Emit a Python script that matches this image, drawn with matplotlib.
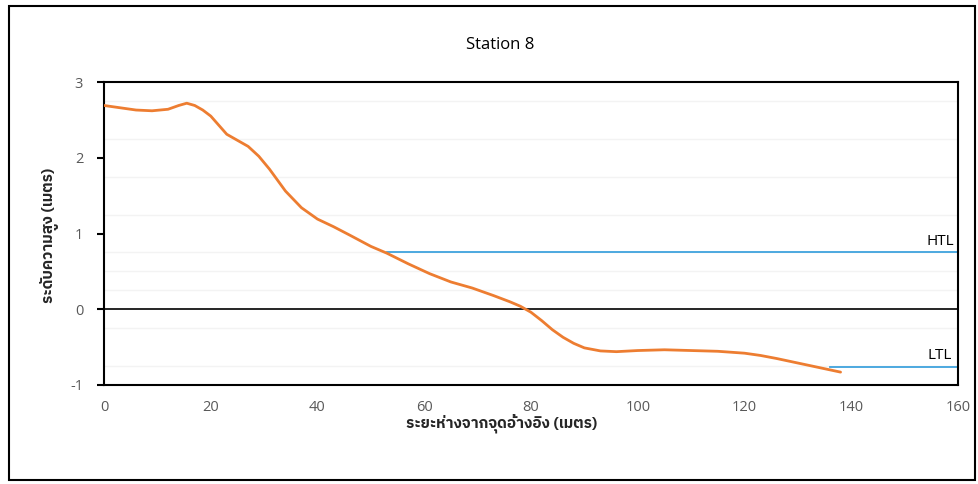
import matplotlib
matplotlib.use("Agg")
import matplotlib.pyplot as plt
from matplotlib import font_manager
from matplotlib.patches import Rectangle

# ---- data ----
distance = [0, 3, 6, 9, 12, 14, 15.5, 17, 18.5, 20, 21.5, 23, 25, 27, 29, 31, 34,
            37, 40, 43, 46, 50, 53, 57, 61, 65, 69, 73, 76, 78, 80, 82, 84, 86,
            88, 90, 93, 96, 100, 105, 110, 115, 120, 123, 126, 130, 134, 138]
elevation = [2.69, 2.66, 2.63, 2.62, 2.64, 2.69, 2.72, 2.69, 2.63, 2.55, 2.43,
             2.31, 2.23, 2.15, 2.02, 1.85, 1.56, 1.34, 1.19, 1.09, 0.98, 0.83,
             0.74, 0.6, 0.47, 0.36, 0.28, 0.18, 0.1, 0.04, -0.04, -0.15, -0.27,
             -0.37, -0.45, -0.51, -0.55, -0.56, -0.545, -0.535, -0.545, -0.555,
             -0.58, -0.61, -0.65, -0.71, -0.77, -0.83]
htl_x = [53, 160]
htl_y = [0.75, 0.75]
ltl_x = [136, 160]
ltl_y = [-0.76, -0.76]
x_ticks = [0, 20, 40, 60, 80, 100, 120, 140, 160]
y_ticks = [-1, 0, 1, 2, 3]
title = "Station 8"
xlabel = "ระยะห่างจากจุดอ้างอิง (เมตร)"
ylabel = "ระดับความสูง (เมตร)"

# ---- find a Thai-capable font (prefer proportional sans) ----
thai_font = None
try:
    from fontTools.ttLib import TTFont
    cands = []
    for f in font_manager.findSystemFonts():
        try:
            tt = TTFont(f, fontNumber=0, lazy=True)
            cmap = tt.getBestCmap()
            if cmap and 0x0E23 in cmap and 0x0E2A in cmap and 0x0E35 in cmap:
                name = font_manager.FontProperties(fname=f).get_name()
                score = 0
                low = (name + " " + f).lower()
                if "mono" in low:
                    score += 10
                if "serif" in low and "sans" not in low:
                    score += 5
                if "bold" in low or "oblique" in low or "italic" in low:
                    score += 2
                if "sans" in low:
                    score -= 1
                cands.append((score, name))
        except Exception:
            continue
    if cands:
        cands.sort()
        thai_font = cands[0][1]
except Exception:
    pass
thai_fams = ([thai_font] if thai_font else []) + ["DejaVu Sans"]
latin_fams = ["Open Sans", "DejaVu Sans"]
plt.rcParams['font.family'] = latin_fams
plt.rcParams['axes.unicode_minus'] = False

W, H = 979, 484
fig = plt.figure(figsize=(W / 100, H / 100), dpi=100)
fig.patch.set_facecolor("white")
fig.add_artist(Rectangle((9 / W, 1 - 480 / H), (975 - 9) / W, (480 - 6) / H,
                         transform=fig.transFigure, fill=False,
                         edgecolor="black", linewidth=1.5))

ax = fig.add_axes([104 / W, 1 - 385 / H, (958 - 104) / W, (385 - 82) / H])
ax.set_xlim(0, 160)
ax.set_ylim(-1, 3)

# faint minor grid
for v in [2.75, 2.25, 1.75, 1.25, 0.75, 0.5, 0.25, -0.25, -0.75]:
    ax.axhline(v, color="#f3f3f3", linewidth=1, zorder=0)

ax.axhline(0, color="black", linewidth=1.2, zorder=1)
ax.plot(htl_x, htl_y, color="#3FA3DD", linewidth=1.3, zorder=2)
ax.plot(ltl_x, ltl_y, color="#3FA3DD", linewidth=1.3, zorder=2)
ax.plot(distance, elevation, color="#ED7D31", linewidth=2, zorder=3,
        solid_joinstyle="round", solid_capstyle="round")

ax.text(156.6, 0.8, "HTL", ha="center", va="bottom", fontsize=11, color="black")
ax.text(156.6, -0.71, "LTL", ha="center", va="bottom", fontsize=11, color="black")

for s in ax.spines.values():
    s.set_linewidth(1.5)
    s.set_color("black")

ax.set_xticks(x_ticks)
ax.set_yticks(y_ticks)
ax.tick_params(axis="x", length=0, pad=10.5, labelsize=10.5, labelcolor="#595959")
ax.tick_params(axis="y", length=5, width=1.5, direction="out", pad=10,
               labelsize=10.5, labelcolor="#595959")

fig.text(500 / W, 1 - 45 / H, title, ha="center", va="center", fontsize=12)
fig.text(502 / W, 1 - 423 / H, xlabel, ha="center", va="center", fontsize=11,
         fontweight="bold", color="#262626", family=thai_fams)
fig.text(50 / W, 1 - 235 / H, ylabel, ha="center", va="center", fontsize=11,
         fontweight="bold", color="#262626", rotation=90, family=thai_fams)

fig.savefig("out.png", dpi=100)
